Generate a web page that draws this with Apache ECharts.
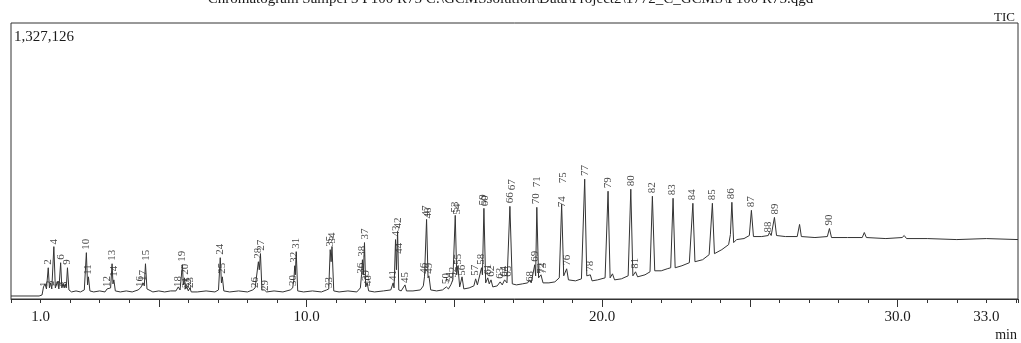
<!DOCTYPE html>
<html>
<head>
<meta charset="utf-8">
<title>Chromatogram TIC</title>
<script src="https://cdn.jsdelivr.net/npm/echarts@6/dist/echarts.min.js"></script>
<style>
  html, body { margin: 0; padding: 0; background: #fff; }
  #chart { width: 1021px; height: 343px; }
</style>
</head>
<body>
<div id="chart"></div>
<script>
// header texts
const titleText = "Chromatogram Sampel 3 P100 R75 C:\\GCMSsolution\\Data\\Project2\\1772_C_GCMS\\P100 R75.qgd";
const maxIntensity = 1327126;
const xLabelValues = [1, 10, 20, 30, 33];
const majorTicks = [5, 10, 15, 20, 25, 30];

// TIC trace: [retention time (min), intensity]
const trace = [
  [0.00, 14500], [0.95, 14500], [1.05, 19400], [1.10, 58100], [1.15, 72700], [1.20, 48400],
  [1.26, 150200], [1.30, 53300], [1.34, 77500], [1.38, 48400], [1.45, 251900], [1.50, 53300],
  [1.57, 82300], [1.62, 48400], [1.68, 174400], [1.72, 53300], [1.76, 72700], [1.80, 53300],
  [1.84, 72700], [1.87, 53300], [1.91, 150200], [1.96, 43600], [2.05, 33900], [2.20, 38800],
  [2.35, 33900], [2.48, 43600], [2.55, 222800], [2.59, 67800], [2.62, 106600], [2.67, 38800],
  [2.80, 33900], [3.00, 38800], [3.18, 33900], [3.25, 48400], [3.30, 38800], [3.37, 53300],
  [3.42, 169500], [3.45, 72700], [3.48, 92000], [3.53, 38800], [3.70, 33900], [3.90, 38800],
  [4.10, 33900], [4.30, 43600], [4.38, 53300], [4.42, 63000], [4.47, 77500], [4.51, 63000],
  [4.55, 169500], [4.60, 48400], [4.80, 33900], [5.00, 38800], [5.20, 33900], [5.40, 38800],
  [5.58, 38800], [5.66, 58100], [5.72, 43600], [5.80, 164700], [5.83, 67800], [5.87, 101700],
  [5.91, 48400], [5.95, 58100], [6.00, 38800], [6.05, 53300], [6.10, 33900], [6.30, 33900],
  [6.60, 38800], [6.90, 33900], [7.02, 43600], [7.08, 198600], [7.12, 77500], [7.15, 106600],
  [7.20, 38800], [7.40, 33900], [7.70, 38800], [8.00, 33900], [8.18, 43600], [8.26, 53300],
  [8.31, 48400], [8.37, 179200], [8.40, 140500], [8.44, 218000], [8.49, 43600], [8.57, 43600],
  [8.65, 33900], [8.90, 38800], [9.20, 33900], [9.45, 43600], [9.53, 53300], [9.57, 92000],
  [9.60, 159900], [9.62, 116300], [9.65, 227700], [9.70, 38800], [9.90, 33900], [10.20, 38800],
  [10.50, 33900], [10.68, 43600], [10.75, 48400], [10.80, 237400], [10.83, 179200], [10.86, 251900],
  [10.92, 38800], [11.10, 33900], [11.40, 38800], [11.70, 33900], [11.82, 53300], [11.86, 116300],
  [11.89, 188900], [11.92, 116300], [11.96, 271300], [12.00, 58100], [12.05, 77500], [12.10, 38800],
  [12.30, 33900], [12.60, 38800], [12.85, 43600], [12.93, 77500], [12.96, 53300], [13.01, 285800],
  [13.04, 140500], [13.08, 324500], [13.12, 43600], [13.20, 38800], [13.33, 67800], [13.38, 38800],
  [13.60, 38800], [13.85, 43600], [13.95, 63000], [13.99, 106600], [14.06, 382700], [14.11, 101700],
  [14.14, 111400], [14.20, 43600], [14.40, 38800], [14.60, 43600], [14.73, 58100], [14.80, 48400],
  [14.88, 67800], [14.95, 92000], [15.03, 402100], [15.08, 116300], [15.12, 159900], [15.18, 58100],
  [15.26, 106600], [15.32, 48400], [15.50, 53300], [15.66, 63000], [15.72, 96900], [15.78, 67800],
  [15.92, 150200], [15.95, 116300], [16.00, 436000], [16.06, 77500], [16.13, 101700], [16.18, 72700],
  [16.24, 92000], [16.30, 58100], [16.45, 63000], [16.55, 82300], [16.62, 67800], [16.70, 92000],
  [16.78, 77500], [16.88, 445600], [16.96, 72700], [17.10, 67800], [17.30, 72700], [17.48, 77500],
  [17.55, 92000], [17.60, 77500], [17.72, 164700], [17.75, 111400], [17.79, 440800], [17.85, 101700],
  [17.93, 116300], [18.00, 77500], [18.20, 77500], [18.40, 82300], [18.55, 101700], [18.63, 455300],
  [18.70, 111400], [18.80, 145300], [18.86, 92000], [19.10, 87200], [19.30, 96900], [19.41, 576400],
  [19.48, 111400], [19.60, 116300], [19.66, 87200], [19.85, 92000], [20.10, 101700], [20.20, 518300],
  [20.27, 101700], [20.35, 121100], [20.42, 92000], [20.65, 96900], [20.88, 111400], [20.97, 528000],
  [21.04, 111400], [21.13, 130800], [21.20, 106600], [21.45, 116300], [21.62, 130800], [21.70, 494100],
  [21.78, 135600], [22.00, 135600], [22.20, 145300], [22.32, 150200], [22.40, 484400], [22.47, 150200],
  [22.70, 159900], [22.95, 174400], [23.07, 460200], [23.14, 179200], [23.40, 188900], [23.62, 213100],
  [23.73, 460200], [23.80, 218000], [24.05, 237400], [24.28, 261600], [24.34, 310000], [24.39, 465000],
  [24.45, 271300], [24.55, 285800], [24.80, 290600], [24.98, 305200], [25.05, 426300], [25.12, 300300],
  [25.40, 300300], [25.62, 305200], [25.66, 319700], [25.72, 305200], [25.83, 392400], [25.90, 305200],
  [26.20, 300300], [26.60, 300300], [26.68, 358500], [26.74, 300300], [27.20, 295500], [27.62, 300300],
  [27.69, 339100], [27.76, 295500], [28.30, 295500], [28.80, 295500], [28.87, 319700], [28.94, 295500],
  [29.60, 290600], [30.15, 295500], [30.22, 305200], [30.30, 290600], [31.00, 290600], [32.00, 285800],
  [33.00, 290600], [34.07, 285800]
];

// peak numbers with the retention time and height where each number sits
const peakNo = [
  1, 2, 3, 4, 5, 6, 7, 8, 9, 10, 11, 12, 13, 14, 15, 16, 17, 18, 19, 20,
  21, 22, 23, 24, 25, 26, 27, 28, 29, 30, 31, 32, 33, 34, 35, 36, 37, 38, 39, 40,
  41, 42, 43, 44, 45, 46, 47, 48, 49, 50, 51, 52, 53, 54, 55, 56, 57, 58, 59, 60,
  61, 62, 63, 64, 65, 66, 67, 68, 69, 70, 71, 72, 73, 74, 75, 76, 77, 78, 79, 80,
  81, 82, 83, 84, 85, 86, 87, 88, 89, 90
];
const peakRt = [
  1.11, 1.25, 1.34, 1.46, 1.57, 1.68, 1.74, 1.81, 1.90, 2.55, 2.62, 3.25, 3.43, 3.50, 4.58, 4.38, 4.48, 5.66, 5.80, 5.90,
  5.93, 6.00, 6.07, 7.08, 7.15, 8.26, 8.47, 8.37, 8.60, 9.53, 9.65, 9.58, 10.75, 10.86, 10.80, 11.85, 11.98, 11.88, 12.01, 12.08,
  12.93, 13.09, 13.03, 13.13, 13.33, 13.99, 14.04, 14.11, 14.14, 14.73, 14.85, 14.95, 15.02, 15.09, 15.12, 15.26, 15.71, 15.91, 15.97, 16.03,
  16.13, 16.24, 16.54, 16.68, 16.81, 16.88, 16.95, 17.55, 17.72, 17.77, 17.81, 17.93, 17.99, 18.64, 18.67, 18.80, 19.41, 19.60, 20.19, 20.97,
  21.12, 21.69, 22.38, 23.06, 23.72, 24.38, 25.05, 25.63, 25.85, 27.69
];
const peakHeight = [
  48400, 155000, 53300, 251900, 53300, 179200, 48400, 48400, 155000, 227700,
  106600, 48400, 174400, 96900, 174400, 48400, 77500, 48400, 169500, 106600,
  43600, 33900, 43600, 203400, 111400, 43600, 222800, 184100, 29100, 53300,
  232500, 164700, 43600, 256700, 242200, 111400, 276100, 193800, 77500, 53300,
  77500, 329400, 290600, 208300, 67800, 111400, 387500, 377800, 111400, 63000,
  72700, 92000, 406900, 397200, 155000, 101700, 101700, 155000, 440800, 436000,
  106600, 96900, 87200, 96900, 96900, 450500, 513500, 72700, 169500, 445600,
  528000, 111400, 111400, 431100, 547400, 150200, 581300, 121100, 523200, 532800,
  135600, 498900, 489200, 465000, 465000, 469900, 431100, 310000, 397200, 343900
];

const serif = '"Liberation Serif", "DejaVu Serif", serif';

const labelData = peakNo.map((n, i) => ({ name: String(n), value: [peakRt[i], peakHeight[i]] }));

const chart = echarts.init(document.getElementById('chart'));
chart.setOption({
  animation: false,
  grid: {
    left: 11, right: 2, top: 23, bottom: 44,
    show: true, borderColor: '#333', borderWidth: 1, backgroundColor: 'transparent'
  },
  xAxis: [
    {
      type: 'value', min: 0, max: 34.07, interval: 1,
      axisLine: { show: true, lineStyle: { color: '#333', width: 1 } },
      axisTick: { show: true, length: 4, lineStyle: { color: '#333' } },
      splitLine: { show: false },
      axisLabel: {
        margin: 11, fontFamily: serif, fontSize: 15, color: '#1a1a1a',
        formatter: v => (xLabelValues.indexOf(Math.round(v * 100) / 100) >= 0 ? v.toFixed(1) : '')
      }
    },
    {
      type: 'value', min: 0, max: 34.07, interval: 5, position: 'bottom', gridIndex: 0,
      axisLine: { show: false },
      axisTick: { show: true, length: 8, customValues: majorTicks, lineStyle: { color: '#333' } },
      axisLabel: { show: false },
      splitLine: { show: false }
    }
  ],
  yAxis: {
    type: 'value', min: 0, max: maxIntensity,
    axisLine: { show: false }, axisTick: { show: false },
    axisLabel: { show: false }, splitLine: { show: false }
  },
  graphic: [
    { type: 'text', left: 'center', top: -8, style: { text: titleText, font: '15px ' + serif, fill: '#1a1a1a' } },
    { type: 'text', right: 6, top: 11, style: { text: 'TIC', font: '13px ' + serif, fill: '#1a1a1a' } },
    { type: 'text', left: 14, top: 30, style: { text: '1,327,126', font: '15px ' + serif, fill: '#1a1a1a' } },
    { type: 'text', right: 4, top: 328, style: { text: 'min', font: '14px ' + serif, fill: '#1a1a1a' } }
  ],
  series: [
    {
      type: 'line', xAxisIndex: 0, data: trace, showSymbol: false, silent: true,
      lineStyle: { color: '#333', width: 1 }
    },
    {
      type: 'scatter', xAxisIndex: 0, data: labelData, symbolSize: 2, silent: true,
      itemStyle: { color: 'rgba(0,0,0,0)' },
      labelLayout: { hideOverlap: false },
      label: {
        show: true, formatter: '{b}', position: 'top', distance: 1,
        rotate: 90, align: 'left', verticalAlign: 'middle',
        fontFamily: serif, fontSize: 11, color: '#111'
      }
    }
  ]
});
</script>
</body>
</html>
